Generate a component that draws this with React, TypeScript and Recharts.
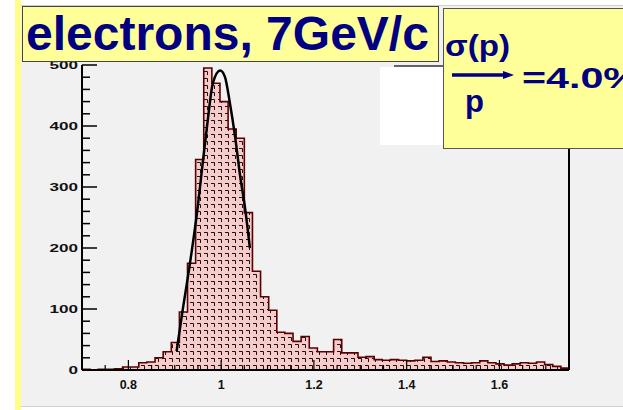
import React from "react";
import { ComposedChart, Area, Line, XAxis, YAxis, ReferenceLine } from "recharts";

// histogram: 60 bins of 0.0175 from 0.7 to 1.75
const BIN_START = 0.7;
const BIN_WIDTH = 0.0175;
const binCounts = [
  1, 0, 1, 1, 2, 5, 5, 12, 13, 20, 30, 45, 95, 175, 345, 495, 470, 440, 395, 380,
  258, 162, 120, 98, 62, 60, 47, 55, 36, 30, 30, 50, 28, 28, 21, 22, 17, 16, 17, 16,
  15, 16, 21, 14, 15, 13, 12, 11, 12, 15, 12, 10, 8, 10, 12, 11, 13, 9, 6, 3,
];

// gaussian fit
const fitX = [0.904, 0.915, 0.933, 0.947, 0.961, 0.972, 0.982, 0.998, 1.008, 1.019, 1.03, 1.041, 1.052, 1.062];
const fitY = [31, 88, 176, 252, 344, 415, 470, 491, 481, 437, 383, 318, 263, 200];

const xTicks = [0.75, 0.8, 0.85, 0.9, 0.95, 1, 1.05, 1.1, 1.15, 1.2, 1.25, 1.3, 1.35, 1.4, 1.45, 1.5, 1.55, 1.6, 1.65, 1.7];
const xLabels = [0.8, 1, 1.2, 1.4, 1.6];
const yTicks = [0, 20, 40, 60, 80, 100, 120, 140, 160, 180, 200, 220, 240, 260, 280, 300, 320, 340, 360, 380, 400, 420, 440, 460, 480, 500];
const yLabels = [0, 100, 200, 300, 400, 500];

const histData = binCounts
  .map((count, i) => ({ x: BIN_START + i * BIN_WIDTH, count }))
  .concat([{ x: BIN_START + binCounts.length * BIN_WIDTH, count: binCounts[binCounts.length - 1] }]);

const fitData = fitX.map((x, i) => ({ x, fit: fitY[i] }));

const NAVY = "#000080";

const YTick = (props: any) => {
  const { x, y, payload } = props;
  const major = yLabels.includes(payload.value);
  const label = String(payload.value);
  return (
    <g>
      <line x1={x} x2={x + (major ? 15 : 8)} y1={y} y2={y} stroke="#000" strokeWidth={1.5} />
      {major && (
        <text
          x={x - 4}
          y={y + 4}
          textAnchor="end"
          fontSize={11}
          fontWeight="bold"
          fill="#111"
          textLength={label.length * 9.5}
          lengthAdjust="spacingAndGlyphs"
        >
          {label}
        </text>
      )}
    </g>
  );
};

const XTick = (props: any) => {
  const { x, y, payload } = props;
  const major = xLabels.some((v) => Math.abs(v - payload.value) < 1e-6);
  return (
    <g>
      <line x1={x} x2={x} y1={y} y2={y - (major ? 10 : 5)} stroke="#000" strokeWidth={1.2} />
      {major && (
        <text x={x} y={y + 19} textAnchor="middle" fontSize={12.5} fontWeight="bold" fill="#111">
          {payload.value === 1 ? "1" : payload.value.toFixed(1)}
        </text>
      )}
    </g>
  );
};

export default function App() {
  return (
    <div
      style={{
        position: "absolute",
        left: 0,
        top: 0,
        width: 623,
        height: 410,
        background: "#fff",
        overflow: "hidden",
        fontFamily: '"Liberation Sans", Arial, sans-serif',
      }}
    >
      <div
        style={{
          position: "absolute",
          left: 21,
          top: 5,
          width: 602,
          height: 400,
          background: "#f1f1f1",
          borderTop: "1px solid #cfcfcf",
          borderBottom: "1px solid #cfcfcf",
        }}
      />
      <div style={{ position: "absolute", left: 15, top: 0, width: 6, height: 410, background: "#ffff88" }} />

      <div style={{ position: "absolute", left: 0, top: 0 }}>
        <ComposedChart width={623} height={410} margin={{ top: 65, right: 54, bottom: 15, left: 42 }}>
          <defs>
            <pattern id="hatch" width="7" height="7" patternUnits="userSpaceOnUse">
              <rect width="7" height="7" fill="#f5cccc" />
              <path d="M1 1.5 H4.5 V5" stroke="#2a0d0d" strokeWidth={1} fill="none" />
            </pattern>
          </defs>
          <XAxis
            dataKey="x"
            type="number"
            domain={[0.7, 1.75]}
            allowDataOverflow
            ticks={xTicks}
            interval={0}
            tick={<XTick />}
            tickLine={false}
            tickSize={0}
            tickMargin={0}
            height={25}
            axisLine={{ stroke: "#000", strokeWidth: 2 }}
          />
          <YAxis
            type="number"
            domain={[0, 500]}
            allowDataOverflow
            ticks={yTicks}
            interval={0}
            tick={<YTick />}
            tickLine={false}
            tickSize={0}
            tickMargin={0}
            width={40}
            axisLine={{ stroke: "#000", strokeWidth: 2 }}
          />
          <Area
            data={histData}
            dataKey="count"
            type="stepAfter"
            stroke="#5a0000"
            strokeWidth={1.6}
            fill="url(#hatch)"
            fillOpacity={1}
            isAnimationActive={false}
            dot={false}
            activeDot={false}
          />
          <Line
            data={fitData}
            dataKey="fit"
            type="monotone"
            stroke="#000"
            strokeWidth={2.5}
            dot={false}
            activeDot={false}
            isAnimationActive={false}
          />
          <ReferenceLine x={1.75} stroke="#000" strokeWidth={2} ifOverflow="visible" />
        </ComposedChart>
      </div>

      <svg
        width={623}
        height={410}
        style={{ position: "absolute", left: 0, top: 0, pointerEvents: "none" }}
        fontFamily='"Liberation Sans", Arial, sans-serif'
      >
        <rect x={380} y={67} width={63} height={78} fill="#fff" />
        <line x1={394} x2={443} y1={66} y2={66} stroke="#333" strokeWidth={1.5} />

        <rect x={22.5} y={6.5} width={416} height={55} fill="#ffff99" stroke="#444" strokeWidth={1} />
        <text x={26} y={50} fontSize={48} fontWeight="bold" fill={NAVY}>
          electrons, 7GeV/c
        </text>

        <rect x={443.5} y={8.5} width={190} height={140} fill="#ffff99" stroke="#555" strokeWidth={1} />
        <text x={445} y={56} fontSize={30} fontWeight="bold" fill={NAVY} textLength={65} lengthAdjust="spacingAndGlyphs">
          σ(p)
        </text>
        <line x1={452} x2={505} y1={75} y2={75} stroke={NAVY} strokeWidth={3.5} />
        <polygon points="503,71 514,75 503,79" fill={NAVY} />
        <text x={465} y={112} fontSize={31} fontWeight="bold" fill={NAVY}>
          p
        </text>
        <text x={522} y={88} fontSize={30} fontWeight="bold" fill={NAVY} textLength={118} lengthAdjust="spacingAndGlyphs">
          =4.0%
        </text>
      </svg>
    </div>
  );
}
